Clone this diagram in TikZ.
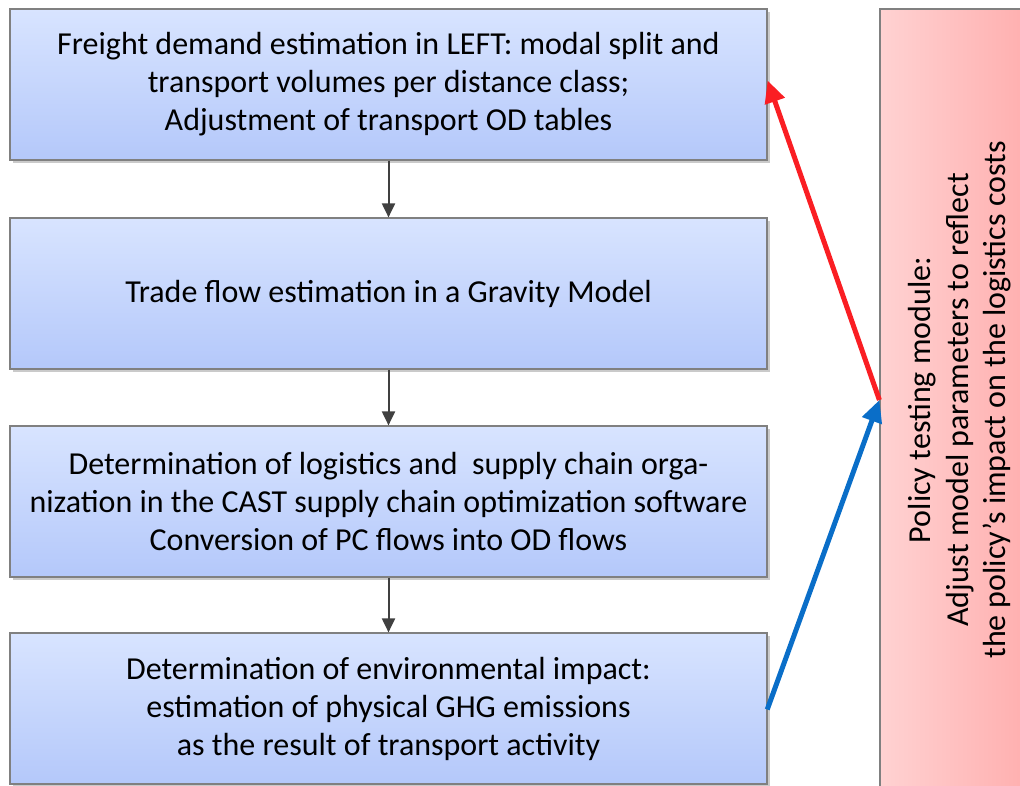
\documentclass[tikz,border=0pt]{standalone}
\usepackage{fontspec}
\setmainfont{Carlito}
\usetikzlibrary{arrows.meta,shadows}
\definecolor{btop}{RGB}{216,228,255}
\definecolor{bbot}{RGB}{180,200,250}
\definecolor{pleft}{RGB}{255,210,210}
\definecolor{pright}{RGB}{255,172,172}
\definecolor{bordergray}{RGB}{128,128,128}
\definecolor{arrgray}{RGB}{64,64,64}
\definecolor{redarr}{RGB}{250,30,35}
\definecolor{bluearr}{RGB}{10,110,200}
\tikzset{
  stage/.style={draw=bordergray, line width=1.2pt, top color=btop, bottom color=bbot,
    minimum width=757pt, minimum height=151pt, align=center, inner sep=0pt,
    font=\fontsize{32}{38}\selectfont,
    drop shadow={shadow xshift=2.5pt, shadow yshift=-2.5pt, fill=black!35, opacity=0.6}},
  policy/.style={draw=bordergray, line width=1.2pt, left color=pleft, right color=pright,
    minimum width=782pt, minimum height=160pt, align=center, inner sep=0pt,
    font=\fontsize{32}{37.5}\selectfont},
  flow/.style={draw=arrgray, line width=2pt, -{Triangle[length=14pt,width=13pt]}},
  feedback/.style={line width=5pt, -{Triangle[length=22pt,width=20pt]}}
}
\begin{document}
\begin{tikzpicture}[x=1pt,y=-1pt]
\useasboundingbox (0,0) rectangle (1020,785);
\node[policy, rotate=90] (pol) at (960,400) {Policy testing module:\\Adjust model parameters to reflect\\the policy’s impact on the logistics costs};
\node[stage] (b1) at (388.5,84.5) {Freight demand estimation in LEFT: modal split and\\transport volumes per distance class;\\Adjustment of transport OD tables};
\node[stage] (b2) at (388.5,293.5) {Trade flow estimation in a Gravity Model};
\node[stage] (b3) at (388.5,501.5) {Determination of logistics and\ \ supply chain orga-\\nization in the CAST supply chain optimization software\\Conversion of PC flows into OD flows};
\node[stage] (b4) at (388.5,708.5) {Determination of environmental impact:\\estimation of physical GHG emissions\\as the result of transport activity};
\draw[flow] (b1.south) -- (b2.north);
\draw[flow] (b2.south) -- (b3.north);
\draw[flow] (b3.south) -- (b4.north);
\draw[feedback, draw=bluearr, fill=bluearr, shorten <=-1pt] (b4.east) -- (pol.north);
\draw[feedback, draw=redarr, fill=redarr] (pol.north) -- ([yshift=4pt]b1.east);
\end{tikzpicture}
\end{document}
